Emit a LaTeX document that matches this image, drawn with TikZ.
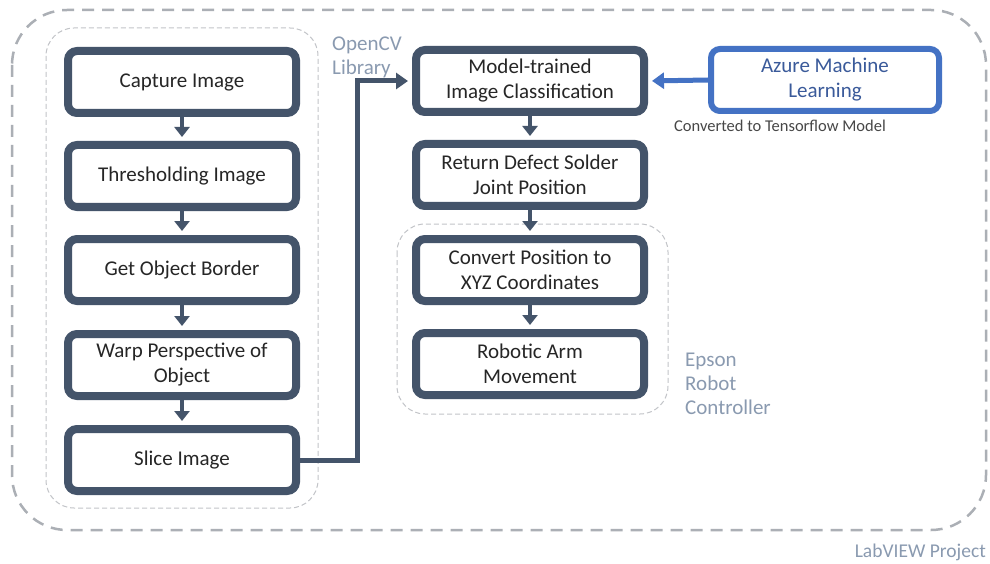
\documentclass[tikz,border=0pt]{standalone}
\usepackage{fontspec}
\setmainfont{Carlito}
\usetikzlibrary{arrows.meta}
\definecolor{navy}{HTML}{44546A}
\definecolor{azureblue}{HTML}{4472C4}
\definecolor{azuretext}{HTML}{3A5A9A}
\definecolor{outergray}{HTML}{ABAFB5}
\definecolor{innergray}{HTML}{C2C4C8}
\definecolor{lbl}{HTML}{8A9AB0}
\definecolor{txt}{HTML}{262626}
\begin{document}
\begin{tikzpicture}[x=1pt,y=-1pt,
  stepbox/.style={draw=navy, line width=8pt, rounded corners=9pt, fill=white,
    minimum width=228pt, minimum height=62pt, align=center,
    font=\fontsize{21}{25}\selectfont, text=txt, inner sep=0pt},
  azbox/.style={stepbox, draw=azureblue, line width=6pt, text=azuretext},
  flow/.style={draw=navy, line width=4pt, -{Triangle[length=10pt,width=15pt]}, shorten >=4pt},
  conn/.style={draw=navy, line width=5pt, -{Triangle[length=12pt,width=16pt]}, shorten >=4pt},
  azflow/.style={draw=azureblue, line width=5pt, -{Triangle[length=12pt,width=16pt]}, shorten >=4pt},
  outerdash/.style={draw=outergray, line width=2.5pt, dash pattern=on 12pt off 8pt, rounded corners=55pt},
  innerdash/.style={draw=innergray, line width=1pt, dash pattern=on 5pt off 3pt, rounded corners=28pt},
  lbltext/.style={text=lbl, font=\fontsize{21}{23.5}\selectfont, align=left, inner sep=0pt}
]
\useasboundingbox (0,0) rectangle (990,564);
\fill[white] (0,0) rectangle (990,564);

% containers
\draw[outerdash] (12,10) rectangle (986,530);
\draw[innerdash] (46,28) rectangle (318,508);
\draw[innerdash] (397,224) rectangle (668,414);

% left column
\node[stepbox] (capture) at (182,82) {Capture Image};
\node[stepbox] (thresh) at (182,176) {Thresholding Image};
\node[stepbox] (border) at (182,270) {Get Object Border};
\node[stepbox] (warp) at (182,365) {Warp Perspective of\\Object};
\node[stepbox] (slice) at (182,460) {Slice Image};

% right column
\node[stepbox] (model) at (530,81) {Model-trained\\Image Classification};
\node[stepbox] (defect) at (530,175) {Return Defect Solder\\Joint Position};
\node[stepbox] (convert) at (530,270) {Convert Position to\\XYZ Coordinates};
\node[stepbox] (robot) at (530,364) {Robotic Arm\\Movement};

\node[azbox] (azure) at (825,80) {Azure Machine\\Learning};

% labels
\node[lbltext, anchor=west] (opencv) at (332,57.5) {OpenCV\\Library};
\node[lbltext, anchor=west, font=\fontsize{21}{24}\selectfont] (epson) at (685,384) {Epson\\Robot\\Controller};
\node[text=txt!85, font=\fontsize{16.5}{19}\selectfont, inner sep=0pt] (conv) at (780,126) {Converted to Tensorflow Model};
\node[text=lbl, font=\fontsize{19.5}{22}\selectfont, anchor=east, inner sep=0pt] (labview) at (986,552) {LabVIEW Project};

% connectors
\draw[flow] (capture) -- (thresh);
\draw[flow] (thresh) -- (border);
\draw[flow] (border) -- (warp);
\draw[flow] (warp) -- (slice);
\draw[flow] (model) -- (defect);
\draw[flow] (defect) -- (convert);
\draw[flow] (convert) -- (robot);

\coordinate (bend) at (357,270);
\draw[conn] (slice.east) -| (bend) |- (model.west);
\draw[azflow] (azure.west) -- (model.east);
\end{tikzpicture}
\end{document}
